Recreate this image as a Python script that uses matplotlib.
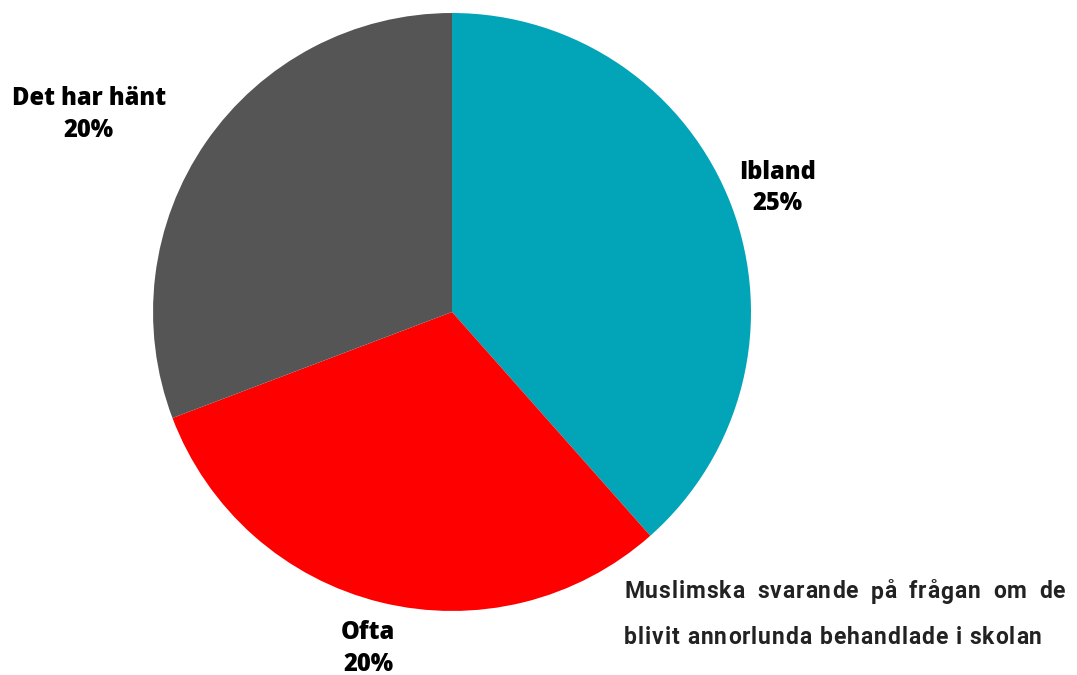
import matplotlib
matplotlib.use('Agg')
import matplotlib.pyplot as plt

## Data
labels = ['Ibland', 'Ofta', 'Det har hänt']
values = [25, 20, 20]
colors = ['#02A4B8', '#FF0000', '#555555']
label_pos = [(1.09, 0.415), (-0.28, -1.125), (-1.215, 0.66)]
note = ['Muslimska svarande på frågan om de',
        'blivit annorlunda behandlade i skolan']

W, H = 1077, 675
fig = plt.figure(figsize=(W / 100, H / 100), dpi=100)
ax = fig.add_axes([0.1421, 0.0948, 0.5552, 0.886])

ax.pie(values, colors=colors, startangle=90, counterclock=False,
       radius=1.0, wedgeprops={'linewidth': 0})
ax.set_xlim(-1, 1)
ax.set_ylim(-1, 1)
ax.set_aspect('equal')
ax.axis('off')

for lab, val, (x, y) in zip(labels, values, label_pos):
    ax.text(x, y, lab + '\n' + str(val) + '%', ha='center', va='center',
            fontsize=17, fontweight='heavy', family='Open Sans',
            linespacing=1.35, color='black', clip_on=False)

## Note in the lower right corner: letter-spaced and justified like the original
renderer = fig.canvas.get_renderer()
style = dict(fontsize=16.5, fontweight='bold', family='Roboto', color='#222222',
             va='center', ha='left')

def width(s):
    t = fig.text(0, 0, s, **style)
    w = t.get_window_extent(renderer).width
    t.remove()
    return w

space_w = width('n n') - width('nn')

def char_w(c):
    return space_w if c == ' ' else width(c)

def place(line, x0, x1, ypix, track):
    ws = [char_w(c) for c in line]
    n_sp = line.count(' ')
    extra = (x1 - x0 - sum(ws) - track * (len(line) - 1)) / max(n_sp, 1)
    x = x0
    for c, w in zip(line, ws):
        if c != ' ':
            fig.text(x / W, 1 - ypix / H, c, **style)
        x += w + track + (extra if c == ' ' else 0)

# tracking taken from the second line, which is not stretched
w2 = sum(char_w(c) for c in note[1])
track = (418 - w2) / (len(note[1]) - 1)
place(note[0], 624, 1065, 592, track)
place(note[1], 624, 1042, 638, track)

fig.savefig('out.png', dpi=100)
